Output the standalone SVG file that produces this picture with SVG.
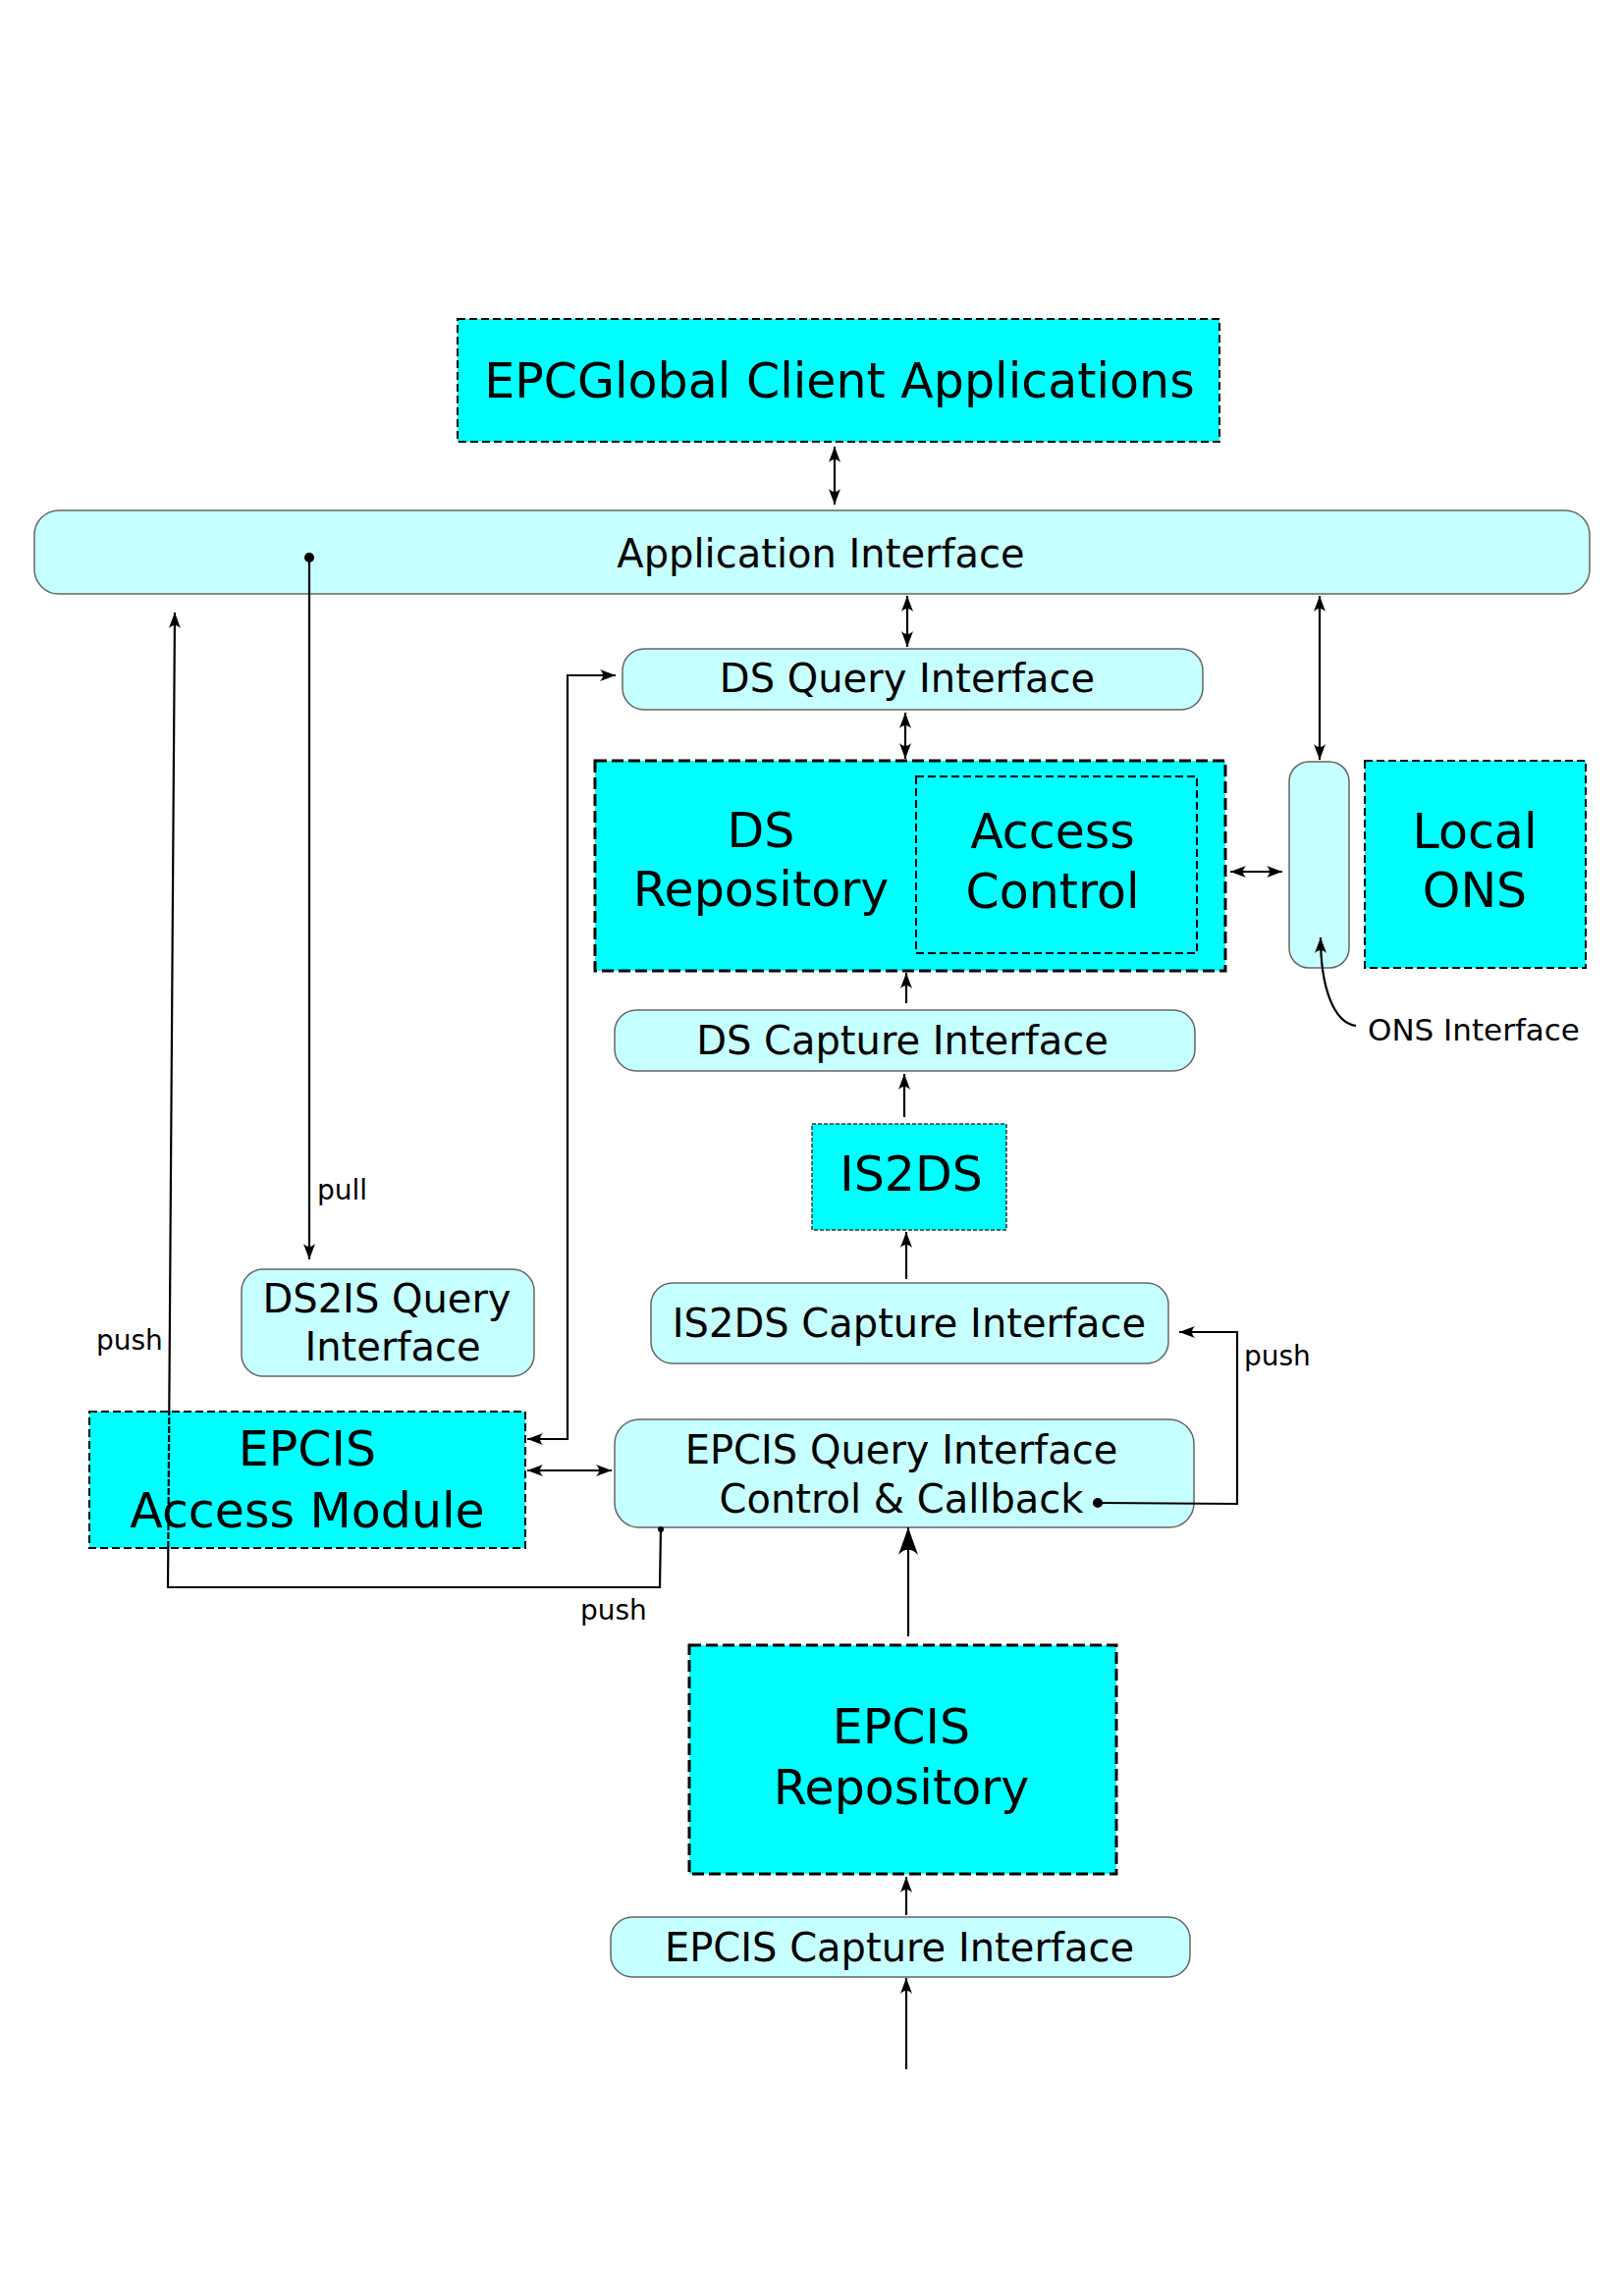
<svg xmlns="http://www.w3.org/2000/svg" width="1654" height="2339" viewBox="0 0 1654 2339">
<style>
.box{fill:#00ffff;stroke:#000;stroke-width:2;stroke-dasharray:8,4}
.thick{stroke-width:3;stroke-dasharray:12,5}
.fine{stroke:#333;stroke-width:1.5;stroke-dasharray:4,2}
.iface{fill:#c6ffff;stroke:#666;stroke-width:1.5}
text{font-family:"DejaVu Sans","Liberation Sans",sans-serif;fill:#000}
.t48{font-size:49px;text-anchor:middle}
.t40{font-size:40px;text-anchor:middle}
.t30{font-size:31px}
.t28{font-size:28px}
.c{fill:none;stroke:#000;stroke-width:2.2}
.both{marker-start:url(#ah);marker-end:url(#ah)}
.end{marker-end:url(#ah)}
</style>
<defs>
<marker id="ah" viewBox="-17 -7 18 14" refX="0" refY="0" markerWidth="18" markerHeight="14" orient="auto-start-reverse" markerUnits="userSpaceOnUse">
<path d="M0,0 L-16,-6 C-12,-2 -12,2 -16,6 Z" fill="#000"/>
</marker>
<marker id="big" viewBox="-29 -11 30 22" refX="0" refY="0" markerWidth="30" markerHeight="22" orient="auto" markerUnits="userSpaceOnUse">
<path d="M0,0 L-28,-10 C-21,-4 -21,4 -28,10 Z" fill="#000"/>
</marker>
</defs>
<rect width="1654" height="2339" fill="#fff"/>

<g id="epcglobal">
<rect class="box" x="466" y="325" width="776" height="125"/>
<text class="t48" x="855" y="405">EPCGlobal Client Applications</text>
</g>
<g id="app-interface">
<rect class="iface" x="35" y="520" width="1584" height="85" rx="25"/>
<text class="t40" x="836" y="578">Application Interface</text>
</g>
<g id="ds-query">
<rect class="iface" x="634" y="661" width="591" height="62" rx="22"/>
<text class="t40" x="924" y="705">DS Query Interface</text>
</g>
<g id="ds-repository">
<rect class="box thick" x="606" y="775" width="642" height="214"/>
<text class="t48" x="775" y="863">DS</text>
<text class="t48" x="775" y="923">Repository</text>
</g>
<g id="access-control">
<rect class="box" x="933" y="791" width="286" height="180"/>
<text class="t48" x="1072" y="864">Access</text>
<text class="t48" x="1072" y="925">Control</text>
</g>
<g id="ons-interface">
<rect class="iface" x="1313" y="776" width="61" height="210" rx="20"/>
<text class="t30" x="1393" y="1060">ONS Interface</text>
</g>
<g id="local-ons">
<rect class="box" x="1390" y="775" width="225" height="211"/>
<text class="t48" x="1502" y="864">Local</text>
<text class="t48" x="1502" y="924">ONS</text>
</g>
<g id="ds-capture">
<rect class="iface" x="626" y="1029" width="591" height="62" rx="22"/>
<text class="t40" x="919" y="1074">DS Capture Interface</text>
</g>
<g id="is2ds">
<rect class="box fine" x="827" y="1145" width="198" height="108"/>
<text class="t48" x="928" y="1213">IS2DS</text>
</g>
<g id="is2ds-capture">
<rect class="iface" x="663" y="1307" width="527" height="82" rx="22"/>
<text class="t40" x="926" y="1362">IS2DS Capture Interface</text>
</g>
<g id="ds2is-query">
<rect class="iface" x="246" y="1293" width="298" height="109" rx="22"/>
<text class="t40" x="394" y="1337">DS2IS Query</text>
<text class="t40" x="400" y="1386">Interface</text>
</g>
<g id="epcis-query">
<rect class="iface" x="626" y="1446" width="590" height="110" rx="25"/>
<text class="t40" x="918" y="1491">EPCIS Query Interface</text>
<text class="t40" x="918" y="1541">Control &amp; Callback</text>
</g>
<g id="epcis-access-module">
<rect class="box" x="91" y="1438" width="444" height="139"/>
<text class="t48" x="313" y="1493">EPCIS</text>
<text class="t48" x="313" y="1556">Access Module</text>
</g>
<g id="epcis-repository">
<rect class="box thick" x="702" y="1676" width="435" height="233"/>
<text class="t48" x="918" y="1776">EPCIS</text>
<text class="t48" x="918" y="1838">Repository</text>
</g>
<g id="epcis-capture">
<rect class="iface" x="622" y="1953" width="590" height="61" rx="22"/>
<text class="t40" x="916" y="1998">EPCIS Capture Interface</text>
</g>

<g id="connectors">
<path class="c both" d="M850,455 V514"/>
<path class="c both" d="M924,607 V659"/>
<path class="c both" d="M922,726 V773"/>
<path class="c both" d="M1344,607 V774"/>
<path class="c both" d="M1253,888 H1306"/>
<path class="c end" d="M1381,1045 C1358,1042 1345,1005 1345,955"/>
<path class="c end" d="M923,1022 V991"/>
<path class="c end" d="M921,1138 V1094"/>
<path class="c end" d="M923,1303 V1255"/>
<circle cx="1118" cy="1531" r="5" fill="#000"/>
<path class="c end" d="M1118,1531 L1260,1532 V1357 H1201"/>
<text class="t28" x="1267" y="1391">push</text>
<circle cx="315" cy="568" r="5" fill="#000"/>
<path class="c end" d="M315,568 V1283"/>
<text class="t28" x="323" y="1222">pull</text>
<path class="c both" d="M537,1466 H578 V688 H627"/>
<path class="c both" d="M537,1498 H623"/>
<circle cx="673" cy="1558" r="3" fill="#000"/>
<path class="c" d="M673,1556 L672,1617 H171 L171.3,1577"/>
<path class="c" d="M171.3,1577 L172.3,1438" stroke="#0a7f7f" stroke-dasharray="7,2"/>
<path class="c end" d="M172.3,1438 L178,624"/>
<text class="t28" x="98" y="1375">push</text>
<text class="t28" x="591" y="1650">push</text>
<path class="c" d="M925,1667 V1556" stroke-width="4" marker-end="url(#big)"/>
<path class="c end" d="M923,1951 V1912"/>
<path class="c end" d="M923,2108 V2015"/>
</g>
</svg>
